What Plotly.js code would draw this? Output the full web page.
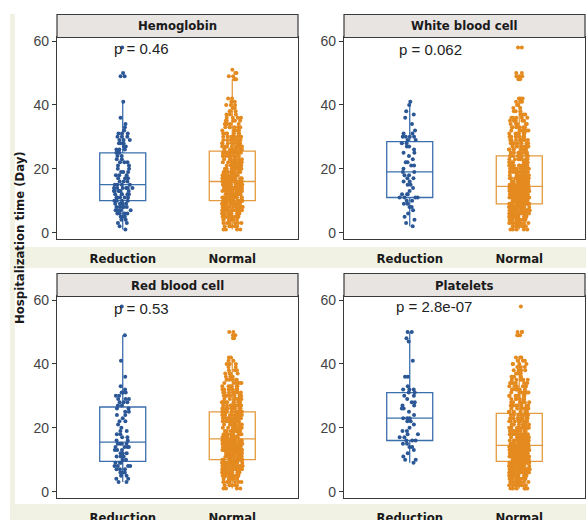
<!DOCTYPE html>
<html><head><meta charset="utf-8">
<script src="https://cdn.plot.ly/plotly-3.0.1.min.js"></script>
<style>html,body{margin:0;padding:0;background:#fff}#chart{width:586px;height:520px}</style>
</head><body><div id="chart"></div><script>
const categories = ['Reduction', 'Normal'];
const panelTitles = ['Hemoglobin', 'White blood cell', 'Red blood cell', 'Platelets'];
const pLabels = ['p = 0.46', 'p = 0.062', 'p = 0.53', 'p = 2.8e-07'];
const yTicks = [0, 20, 40, 60];
// number of patients per hospitalization day (index 0 = day 1 ... index 57 = day 58)
const hbReduction  = [1,1,2,2,3,4,4,5,5,4, 5,6,6,7,4,3,3,3,3,2, 2,3,2,2,3,3,2,3,3,3, 3,1,1,1,0,1,0,0,0,0, 1,0,0,0,0,0,0,0,2,1, 0,0,0,0,0,0,0,1];
const hbNormal     = [4,6,7,9,10,12,14,14,15,14, 14,14,15,17,18,18,13,12,11,10, 10,10,10,10,13,9,9,9,8,8, 7,7,6,5,5,4,3,3,2,3, 2,2,0,0,0,0,0,3,2,2, 1,0,0,0,0,0,0,0];
const wbcReduction = [0,1,1,1,1,1,1,2,2,2, 4,3,1,1,2,2,2,2,2,1, 2,2,1,1,2,1,2,2,2,4, 2,1,0,1,0,1,1,1,0,1, 1,0,0,0,0,0,0,0,0,0, 0,0,0,0,0,0,0,0];
const wbcNormal    = [5,8,10,11,13,15,16,17,18,20, 22,23,24,23,18,15,13,12,11,10, 9,9,8,8,8,8,8,8,8,8, 7,7,7,6,6,5,4,3,2,2, 3,3,0,0,0,0,0,2,3,2, 0,0,0,0,0,0,0,2];
const rbcReduction = [0,0,2,2,2,3,3,4,3,2, 3,3,3,4,4,2,2,2,2,1, 1,2,1,2,2,2,2,3,3,2, 3,1,1,0,0,1,0,0,0,0, 1,0,0,0,0,0,0,0,1,0, 0,0,0,0,0,0,0,1];
const rbcNormal    = [4,6,8,9,11,13,14,15,16,15, 15,16,16,18,19,20,14,13,12,11, 11,11,11,12,13,10,10,9,9,9, 8,8,7,6,5,4,4,3,2,3, 2,2,0,0,0,0,0,2,2,2, 0,0,0,0,0,0,0,0];
const pltReduction = [0,0,0,0,0,0,0,0,1,2, 1,1,1,2,2,3,2,2,2,1, 1,2,3,1,1,2,2,2,1,2, 2,3,1,0,0,2,0,0,0,0, 1,0,0,0,0,0,1,1,0,2, 0,0,0,0,0,0,0,0];
const pltNormal    = [6,8,10,11,13,15,16,17,19,21, 22,24,24,24,18,16,13,12,11,10, 9,9,9,8,8,8,8,8,8,8, 8,7,7,6,6,5,4,4,3,4, 3,3,0,0,0,0,0,0,3,3, 0,0,0,0,0,0,0,1];

const groups = [[hbReduction, hbNormal],[wbcReduction, wbcNormal],[rbcReduction, rbcNormal],[pltReduction, pltNormal]];
function expand(counts){ const out=[]; counts.forEach((c,i)=>{ for(let k=0;k<c;k++) out.push(i+1); }); return out; }

const W=586, H=520;
const xDom = [[57/W, 298/W],[344/W, 585/W],[57/W, 298/W],[344/W, 585/W]];
const yDom = [[1-239/H, 1-37.5/H],[1-239/H, 1-37.5/H],[1-498/H, 1-296.5/H],[1-498/H, 1-296.5/H]];
const stripTop = [14.5, 14.5, 273.5, 273.5];
const pPos = [[0.90,57.8],[0.885,57.2],[0.90,57.2],[0.86,57.9]];

const pointColors = ['#2b5796', '#e48a1f'];
const boxColors = ['#3b6ead', '#e49a3e'];
const boldFont = "'Liberation Sans Narrow', 'DejaVu Sans Condensed', Lato, sans-serif";
const regFont = "'Liberation Sans', Arial, sans-serif";

const traces = [];
const layout = {
  width: W, height: H, margin: {l:0,r:0,t:0,b:0},
  paper_bgcolor: '#ffffff', plot_bgcolor: '#ffffff', showlegend: false,
  shapes: [], annotations: []
};
// beige background bands
const beige = '#f1f2e4';
layout.shapes.push({type:'rect', xref:'paper', yref:'paper', x0:10/W, x1:1, y0:1-268/H, y1:1-247/H, fillcolor:beige, line:{width:0}, layer:'below'});
layout.shapes.push({type:'rect', xref:'paper', yref:'paper', x0:10/W, x1:1, y0:0, y1:1-504/H, fillcolor:beige, line:{width:0}, layer:'below'});
layout.shapes.push({type:'rect', xref:'paper', yref:'paper', x0:10/W, x1:15/W, y0:0, y1:1-14/H, fillcolor:beige, line:{width:0}, layer:'below'});

for (let p=0;p<4;p++){
  const sfx = p===0 ? '' : String(p+1);
  for (let g=0; g<2; g++){
    traces.push({
      type:'box', y: expand(groups[p][g]), x0: g+1, name: categories[g],
      xaxis: 'x'+sfx, yaxis: 'y'+sfx,
      boxpoints:'all', jitter:0.45, pointpos:0, width:0.42, whiskerwidth:0,
      fillcolor:'rgba(0,0,0,0)', line:{color: boxColors[g], width:1.3},
      marker:{color: pointColors[g], size:4, opacity:1},
      hoverinfo:'skip'
    });
  }
  layout['xaxis'+sfx] = {
    domain: xDom[p], anchor:'y'+sfx, range:[0.4,2.6], tickvals:[1,2], ticktext: categories.map(c=>'<b>'+c+'</b>'),
    showline:true, mirror:true, linecolor:'#3a3a3a', linewidth:1.2, ticks:'', showgrid:false, zeroline:false,
    tickfont:{family: boldFont, size:13, color:'#1a1a1a'}, ticklabelstandoff: 7
  };
  layout['yaxis'+sfx] = {
    domain: yDom[p], anchor:'x'+sfx, range:[-2,61.1], tickvals: yTicks,
    showline:true, mirror:true, linecolor:'#3a3a3a', linewidth:1.2, ticks:'outside', ticklen:4, tickcolor:'#333',
    showgrid:false, zeroline:false, tickfont:{family: regFont, size:14, color:'#444'}
  };
  // strip
  layout.shapes.push({type:'rect', xref:'paper', yref:'paper', x0:xDom[p][0], x1:xDom[p][1], y0:yDom[p][1], y1:1-stripTop[p]/H,
    fillcolor:'#e7e4e2', line:{color:'#3a3a3a', width:1.2}});
  layout.annotations.push({xref:'paper', yref:'paper', x:(xDom[p][0]+xDom[p][1])/2, y:(yDom[p][1]+1-stripTop[p]/H)/2,
    text:'<b>'+panelTitles[p]+'</b>', showarrow:false, xanchor:'center', yanchor:'middle',
    font:{family: boldFont, size:13, color:'#1a1a1a'}});
  layout.annotations.push({xref:'x'+sfx, yref:'y'+sfx, x:pPos[p][0], y:pPos[p][1], text:pLabels[p], showarrow:false,
    xanchor:'left', yanchor:'middle', font:{family: regFont, size:15, color:'#222'}});
}
layout.annotations.push({xref:'paper', yref:'paper', x:20/W, y:1-238/H, text:'<b>Hospitalization time (Day)</b>',
  textangle:-90, showarrow:false, xanchor:'center', yanchor:'middle', font:{family: boldFont, size:13, color:'#1a1a1a'}});

Plotly.newPlot('chart', traces, layout, {displayModeBar:false, staticPlot:true});
</script></body></html>
